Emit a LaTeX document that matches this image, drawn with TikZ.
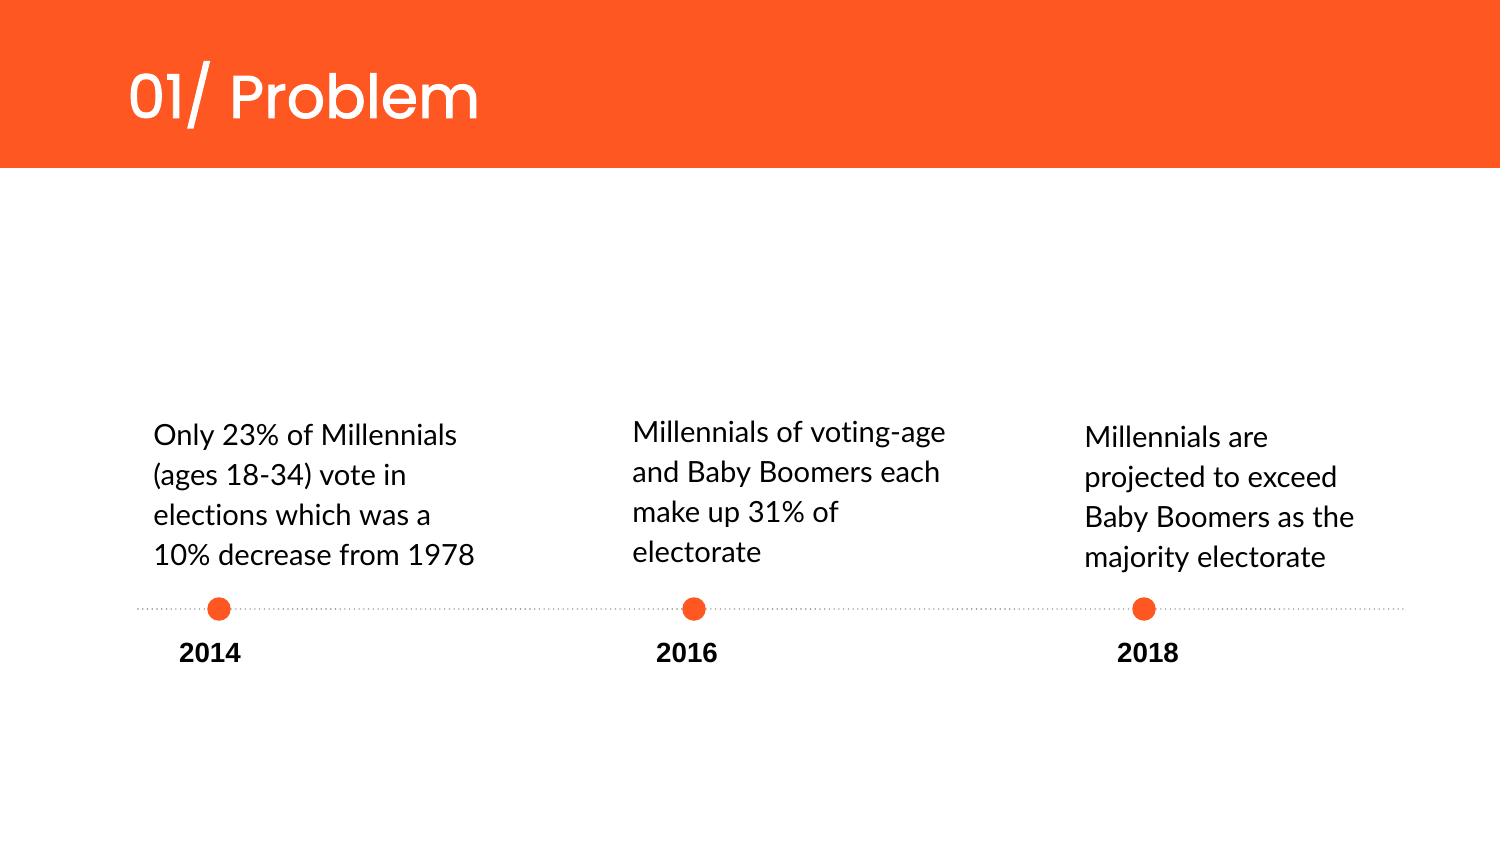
\documentclass[tikz,border=0pt]{standalone}
\usepackage{fontspec}
\usepackage{xcolor}
\setmainfont[Ligatures={NoCommon}]{Lato}
\newfontfamily\titlefont[FakeBold=1.5]{Poppins}
\newfontfamily\yearfont{Liberation Sans}
\definecolor{brandorange}{RGB}{255,87,34}
\definecolor{dotgray}{RGB}{140,140,140}

\begin{document}
\begin{tikzpicture}[x=0.02cm,y=-0.02cm,
    blurb/.style={anchor=base west,align=left,inner sep=0pt,font=\fontsize{16.6}{22.7}\selectfont},
    year/.style={anchor=base,inner sep=0pt,font=\yearfont\bfseries\fontsize{15.8}{19}\selectfont},
    stop/.style={circle,fill=brandorange,minimum size=0.47cm,inner sep=0pt},
    track/.style={dotgray,line width=0.9pt,line cap=round,dash pattern=on 0pt off 2.7pt}]
    \fill[white] (0,0) rectangle (1500,844);
    \fill[brandorange] (0,0) rectangle (1500,168);
    \node[anchor=base west,inner sep=0pt,text=white,font=\titlefont\fontsize{34.3}{40}\selectfont] (title) at (127,118) {01/ Problem};
    \coordinate (start) at (138,609);
    \coordinate (finish) at (1404,609);
    \node[stop] (s2014) at (219,609) {};
    \node[stop] (s2016) at (694,609) {};
    \node[stop] (s2018) at (1144,609) {};
    \draw[track] (start) -- (s2014);
    \draw[track] (s2014) -- (s2016);
    \draw[track] (s2016) -- (s2018);
    \draw[track] (s2018) -- (finish);
    \node[year] (y2014) at (210,662) {2014};
    \node[year] (y2016) at (687,662) {2016};
    \node[year] (y2018) at (1148,662) {2018};
    \node[blurb] (t2014) at (153,565) {Only 23\% of Millennials\\(ages 18-34) vote in\\elections which was a\\10\% decrease from 1978};
    \node[blurb] (t2016) at (632,562) {Millennials of voting-age\\and Baby Boomers each\\make up 31\% of\\electorate};
    \node[blurb] (t2018) at (1084,567) {Millennials are\\projected to exceed\\Baby Boomers as the\\majority electorate};
\end{tikzpicture}
\end{document}
